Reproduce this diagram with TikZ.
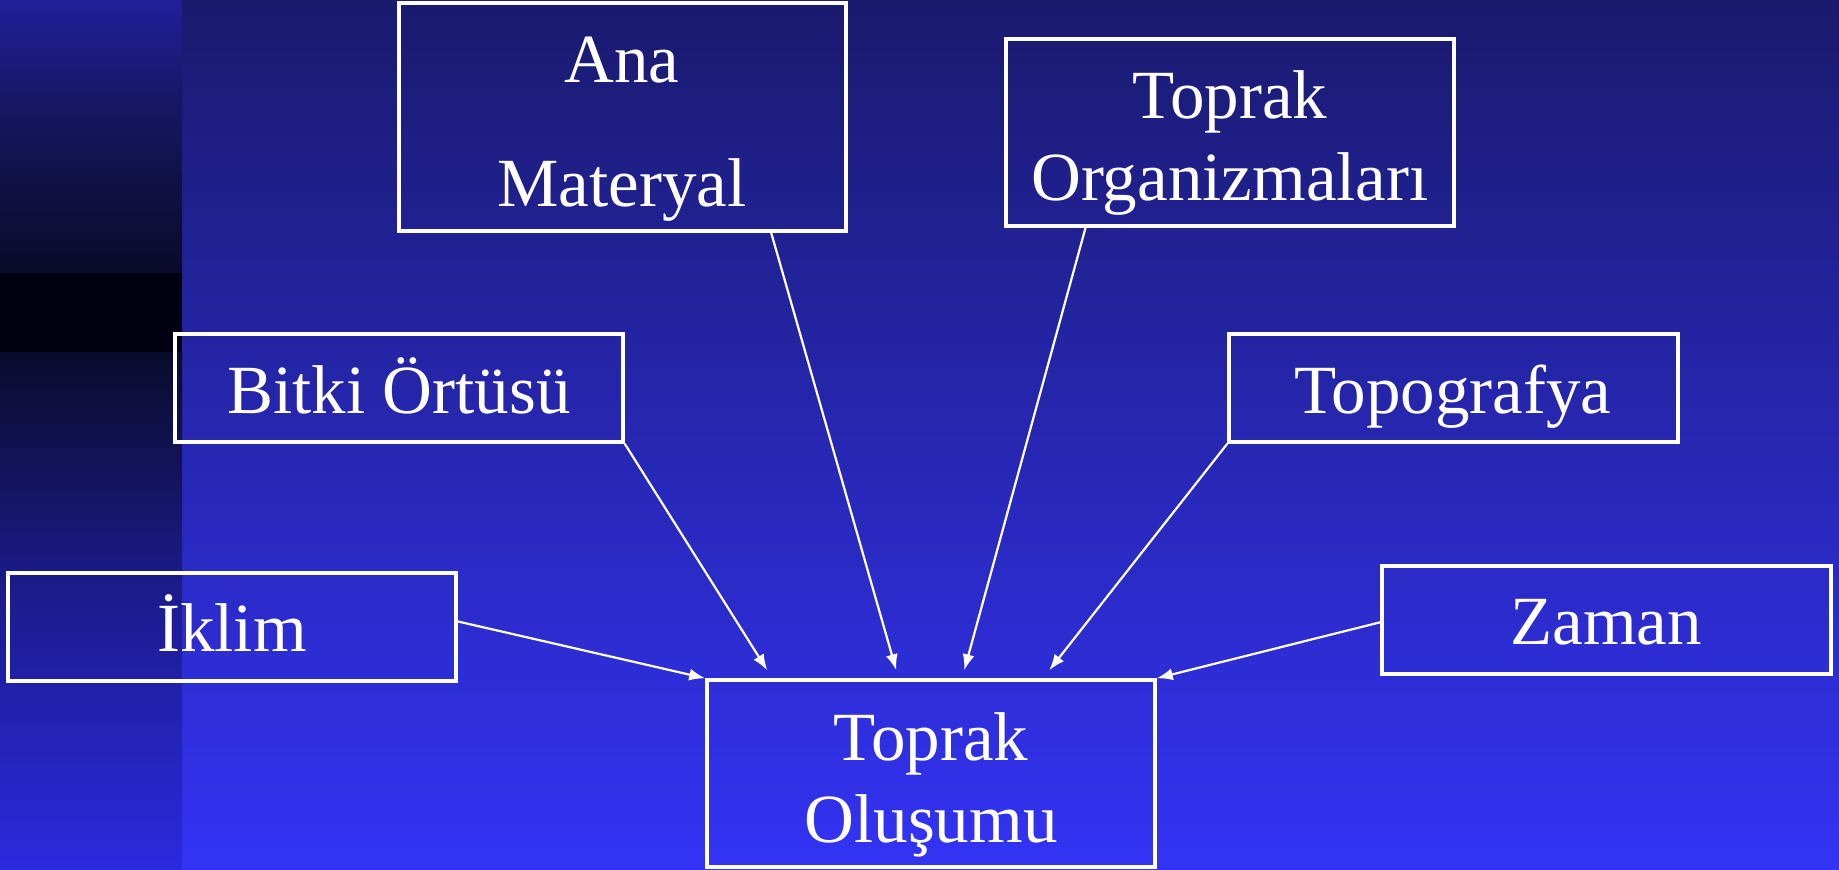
\documentclass[tikz,border=0pt]{standalone}
\usepackage{fontspec}
\setmainfont{Liberation Serif}
\usetikzlibrary{arrows.meta,calc,fit}
\definecolor{bgtop}{RGB}{26,26,110}
\definecolor{bgbot}{RGB}{51,51,245}
\definecolor{sA}{RGB}{32,32,155}
\definecolor{sB}{RGB}{22,22,96}
\definecolor{sC}{RGB}{10,10,40}
\definecolor{sD}{RGB}{0,0,16}
\definecolor{sE}{RGB}{11,11,44}
\definecolor{sF}{RGB}{28,28,144}
\definecolor{sG}{RGB}{42,42,222}
\begin{document}
\begin{tikzpicture}[x=0.5pt,y=-0.5pt,
  box/.style={draw=white,line width=1.75pt,inner sep=0pt},
  lbl/.style={text=white,font=\fontsize{34.5}{40}\selectfont,anchor=base,inner sep=0pt},
  arr/.style={draw=white,line width=1.1pt,-{Latex[length=8pt,width=6pt]}}]
\useasboundingbox (0,0) rectangle (1839,869);
% background
\shade[top color=bgtop,bottom color=bgbot] (0,0) rectangle (1839,869);
% left strip
\shade[top color=sA,bottom color=sB] (0,0) rectangle (182,110);
\shade[top color=sB,bottom color=sC] (0,110) rectangle (182,273);
\fill[sD] (0,273) rectangle (182,352);
\shade[top color=sE,bottom color=sF] (0,352) rectangle (182,600);
\shade[top color=sF,bottom color=sG] (0,600) rectangle (182,869);
% boxes
\node[box,fit={(399,3) (846,231)}] (ana) {};
\node[box,fit={(1006,39) (1454,226)}] (org) {};
\node[box,fit={(175,334) (623,442)}] (bitki) {};
\node[box,fit={(1229,334) (1678,442)}] (topo) {};
\node[box,fit={(8,573) (456,681)}] (iklim) {};
\node[box,fit={(1382,566) (1831,674)}] (zaman) {};
\node[box,fit={(707,680) (1155,867)}] (toprak) {};
% labels
\node[lbl] (t1) at (622,82) {Ana};
\node[lbl] (t2) at (622,206) {Materyal};
\node[lbl] (t3) at (1230,118) {Toprak};
\node[lbl] (t4) at (1230,200) {Organizmaları};
\node[lbl] (t5) at (399,413) {Bitki Örtüsü};
\node[lbl] (t6) at (1453,413) {Topografya};
\node[lbl] (t7) at (232,651) {İklim};
\node[lbl] (t8) at (1606,644) {Zaman};
\node[lbl] (t9) at (931,760) {Toprak};
\node[lbl] (t10) at (931,842) {Oluşumu};
% arrows
\draw[arr] ($(iklim.north east)!0.45!(iklim.south east)$) -- (toprak.north west);
\draw[arr] (bitki.south east) -- ($(toprak.north west)+(62,-8)$);
\draw[arr] ($(ana.south west)!0.83!(ana.south east)$) -- ($(toprak.north west)+(191,-8)$);
\draw[arr] ($(org.south west)!0.18!(org.south east)$) -- ($(toprak.north west)+(259,-8)$);
\draw[arr] (topo.south west) -- ($(toprak.north west)+(344,-8)$);
\draw[arr] ($(zaman.north west)!0.52!(zaman.south west)$) -- (toprak.north east);
\end{tikzpicture}
\end{document}
